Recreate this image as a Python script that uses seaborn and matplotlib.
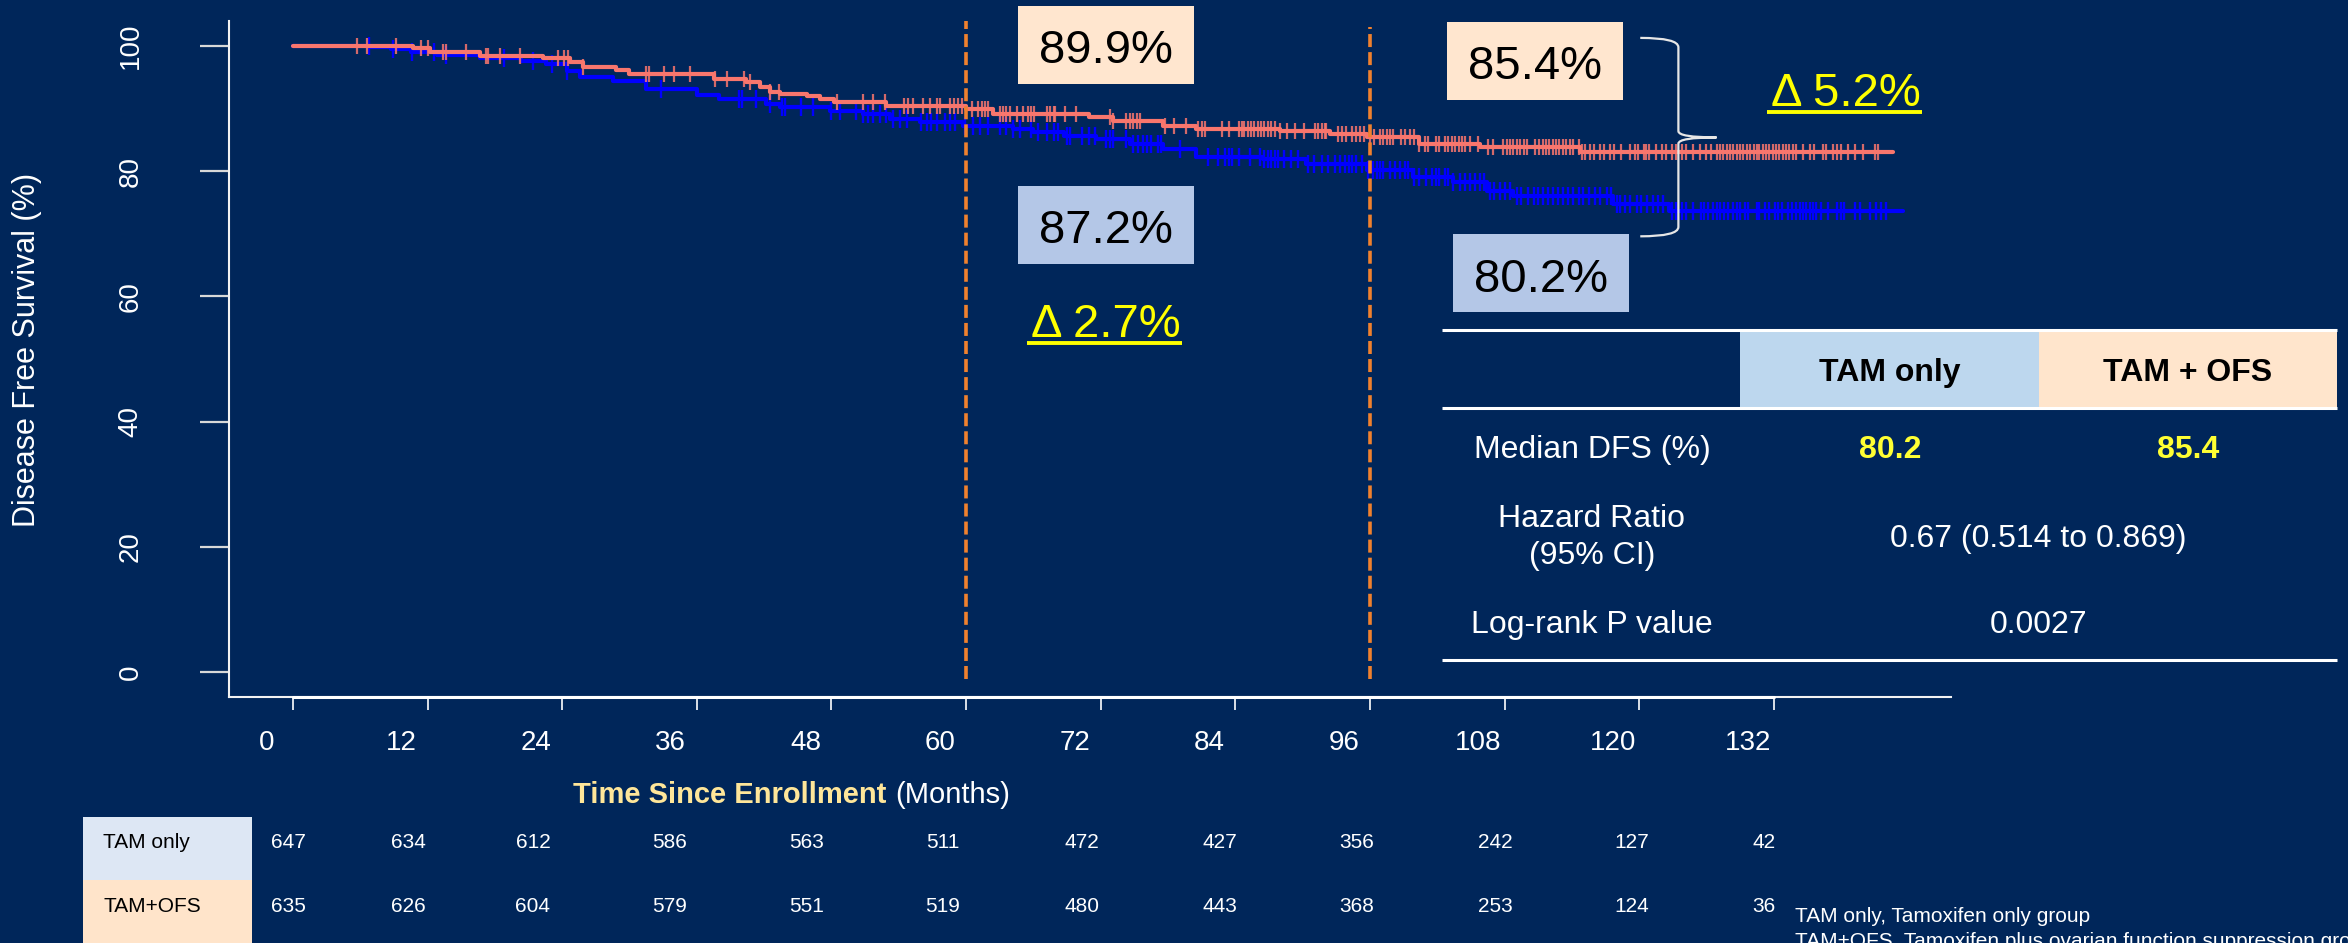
import numpy as np
import pandas as pd
import matplotlib
matplotlib.use("Agg")
import matplotlib.pyplot as plt
import matplotlib.transforms as mtransforms
import seaborn as sns
from matplotlib.patches import Rectangle, PathPatch
from matplotlib.path import Path
from matplotlib.lines import Line2D

# ---------------- data ----------------
groups = ["TAM only", "TAM + OFS"]

# Kaplan-Meier steps: month of each drop and DFS (%) after it
tam_time = [0, 7.0, 8.7, 10.5, 12.8, 16.7, 20.3, 22.6, 24.4, 25.6,
            28.5, 31.5, 36.0, 38.0, 42.2, 43.4, 47.9, 50.8, 53.2, 55.9,
            59.7, 64.2, 66.0, 68.7, 71.6, 74.6, 77.6, 80.5, 86.5, 90.3,
            95.7, 99.8, 103.4, 106.4, 108.8, 117.7, 122.7, 143.5]
tam_surv = [100, 99.8, 99.5, 99.0, 98.6, 98.1, 97.6, 97.1, 96.0, 95.0,
            94.4, 93.1, 92.2, 91.5, 90.7, 90.2, 89.6, 89.1, 88.4, 87.8,
            87.2, 86.7, 86.2, 85.7, 85.1, 84.3, 83.5, 82.3, 81.9, 81.2,
            80.2, 79.1, 78.3, 76.8, 76.0, 74.7, 73.6, 73.6]

ofs_time = [0, 10.7, 12.2, 16.7, 22.3, 24.7, 25.9, 28.8, 30.0, 37.5,
            40.4, 41.6, 42.5, 43.4, 45.8, 47.0, 48.2, 52.9, 60.0, 62.4,
            71.0, 73.1, 77.6, 80.5, 88.0, 92.4, 95.7, 100.4, 105.8, 114.7,
            142.6]
ofs_surv = [100, 99.7, 99.1, 98.4, 98.1, 97.4, 96.6, 96.2, 95.6, 94.7,
            94.2, 93.4, 92.7, 92.4, 92.0, 91.6, 91.1, 90.4, 89.9, 89.2,
            88.6, 88.0, 87.3, 86.8, 86.4, 85.9, 85.4, 84.3, 83.8, 83.0,
            83.0]

# censoring times (months)
tam_censor = [
    6.8, 8.9, 10.6, 12.6, 13.6, 18.8, 21.4, 23.1, 24.4, 32.8, 39.8, 40.0,
    41.3, 42.5, 43.6, 43.9, 45.3, 46.4, 48.0, 48.8, 50.2, 50.8, 51.3, 51.7,
    52.3, 52.9, 53.5, 54.1, 54.7, 56.0, 56.5, 56.9, 57.4, 58.1, 58.6, 59.0,
    59.9, 60.6, 61.2, 62.0, 63.0, 63.6, 64.2, 64.8, 65.8, 66.4, 67.2, 67.8,
    68.2, 69.0, 69.3, 70.3, 71.0, 71.5, 72.5, 72.8, 73.1, 74.3, 74.9, 75.3,
    75.8, 76.1, 76.5, 77.1, 77.4, 79.1, 81.6, 82.5, 83.1, 83.4, 83.7, 84.3,
    85.3, 86.2, 86.6, 86.9, 87.2, 87.5, 87.8, 88.3, 89.0, 89.6, 90.5, 91.0,
    91.7, 92.3, 92.9, 93.3, 93.8, 94.1, 94.4, 94.8, 95.3, 95.8, 96.3, 96.6,
    96.9, 97.2, 97.8, 98.2, 98.7, 99.1, 99.4, 99.9, 100.4, 101.0, 101.5,
    101.9, 102.2, 102.7, 103.0, 103.4, 104.0, 104.5, 104.9, 105.4, 105.8,
    106.2, 106.7, 107.1, 107.6, 108.0, 108.5, 109.1, 109.5, 110.1, 110.6,
    111.0, 111.4, 111.9, 112.3, 112.8, 113.2, 113.7, 114.1, 114.6, 115.0,
    115.5, 116.1, 116.5, 117.1, 117.5, 118.0, 118.3, 118.7, 119.2, 119.8,
    120.2, 120.7, 121.2, 121.7, 122.1, 122.9, 123.3, 123.8, 124.2, 124.8,
    125.5, 125.8, 126.1, 126.6, 126.9, 127.2, 127.6, 127.9, 128.4, 128.7,
    129.0, 129.4, 129.7, 130.5, 130.7, 131.2, 131.6, 132.1, 132.4, 132.7,
    133.3, 133.6, 134.0, 134.3, 134.6, 134.9, 135.2, 135.5, 135.8, 136.2,
    136.8, 137.6, 138.0, 138.3, 139.2, 139.7, 140.6, 141.1, 141.6, 142.0]

ofs_censor = [
    5.7, 6.6, 9.2, 11.4, 12.0, 13.4, 13.6, 15.4, 17.2, 17.4, 18.5, 20.2,
    23.6, 24.2, 24.5, 25.9, 31.5, 31.7, 33.1, 34.0, 35.4, 37.6, 38.7, 40.2,
    40.7, 42.5, 43.3, 48.5, 50.8, 51.7, 52.8, 54.5, 54.8, 55.3, 56.2, 56.8,
    57.4, 57.7, 58.6, 58.9, 59.3, 59.6, 60.5, 61.1, 61.4, 61.7, 62.0, 63.0,
    63.3, 63.6, 63.9, 64.5, 65.1, 65.5, 65.8, 66.1, 67.2, 67.5, 67.8, 67.9,
    68.8, 69.8, 72.8, 73.1, 74.3, 74.6, 74.9, 75.2, 75.5, 77.7, 78.5, 79.6,
    80.7, 81.0, 81.3, 82.8, 83.4, 84.3, 84.6, 84.8, 85.1, 85.4, 85.7, 86.0,
    86.3, 86.6, 86.9, 87.2, 87.5, 88.0, 88.6, 89.3, 90.1, 91.1, 91.4, 91.7,
    92.0, 92.1, 93.2, 93.5, 93.9, 94.4, 94.8, 95.1, 95.5, 96.0, 96.4, 96.9,
    97.2, 97.5, 97.8, 98.1, 98.8, 99.1, 99.6, 99.9, 100.4, 100.9, 101.2,
    101.9, 102.2, 102.7, 103.0, 103.3, 103.6, 103.9, 104.2, 104.5, 104.9,
    105.6, 106.5, 107.0, 107.9, 108.2, 108.5, 108.8, 109.1, 109.4, 109.7,
    110.0, 110.7, 111.1, 111.4, 111.7, 112.0, 112.3, 112.6, 112.9, 113.2,
    113.5, 113.8, 114.1, 114.6, 114.9, 115.2, 115.6, 116.0, 116.5, 116.9,
    117.4, 117.8, 118.4, 119.2, 119.6, 119.9, 120.4, 120.6, 120.9, 121.5,
    122.0, 122.4, 122.9, 123.3, 123.8, 124.2, 124.8, 125.4, 126.0, 126.4,
    126.9, 127.2, 127.5, 127.8, 128.1, 128.4, 128.7, 129.0, 129.3, 129.6,
    129.9, 130.2, 130.5, 130.7, 131.0, 131.3, 131.6, 131.9, 132.2, 132.5,
    132.8, 133.1, 133.4, 133.7, 134.0, 134.6, 135.2, 135.6, 136.4, 136.7,
    137.3, 137.6, 138.0, 138.6, 139.2, 140.0, 141.0, 141.3]

# landmark estimates (months, % DFS)
landmark_months = [60, 96]
tam_landmark = [87.2, 80.2]
ofs_landmark = [89.9, 85.4]

# number at risk
risk_months = list(range(0, 133, 12))
risk_names = ["TAM only", "TAM+OFS"]
tam_risk = [647, 634, 612, 586, 563, 511, 472, 427, 356, 242, 127, 42]
ofs_risk = [635, 626, 604, 579, 551, 519, 480, 443, 368, 253, 124, 36]

# summary table
hr_text = "0.67 (0.514 to 0.869)"
p_text = "0.0027"
footnotes = ["TAM only, Tamoxifen only group",
             "TAM+OFS, Tamoxifen plus ovarian function suppression group"]

# ---------------- style ----------------
BG = "#00265A"
BLUE = "#0000FF"
SALMON = "#F8766D"
PEACH = "#FFE6CF"
LIGHTBLUE = "#B4C7E7"
YELLOW = "#FFFF00"
ORANGE = "#F0812E"

sns.set_theme(style="ticks")
plt.rcParams["font.family"] = ["Liberation Sans", "DejaVu Sans"]
plt.rcParams["axes.unicode_minus"] = False

W, H = 2348, 943


def fx(x):
    return x / W


def fy(y):
    return 1 - y / H


fig = plt.figure(figsize=(W / 100, H / 100), dpi=100, facecolor=BG)
ax = fig.add_axes([fx(229), fy(697), (1951 - 229) / W, (697 - 21) / H])
ax.set_facecolor(BG)

# ---------------- survival curves ----------------
curves = pd.concat([
    pd.DataFrame({"month": tam_time, "dfs": tam_surv, "group": groups[0]}),
    pd.DataFrame({"month": ofs_time, "dfs": ofs_surv, "group": groups[1]}),
])
sns.lineplot(data=curves, x="month", y="dfs", hue="group", hue_order=groups,
             palette={groups[0]: BLUE, groups[1]: SALMON},
             drawstyle="steps-post", estimator=None, sort=False,
             lw=3, legend=False, ax=ax)
ax.lines[0].set_zorder(2)
ax.lines[1].set_zorder(3)


def step_value(times, surv, t):
    idx = np.searchsorted(np.asarray(times), np.asarray(t), side="right") - 1
    return np.asarray(surv)[idx]


ax.plot(tam_censor, step_value(tam_time, tam_surv, tam_censor),
        ls="none", marker="|", ms=12.5, mew=1.7, color=BLUE, zorder=2.5)
ax.plot(ofs_censor, step_value(ofs_time, ofs_surv, ofs_censor),
        ls="none", marker="|", ms=11.5, mew=1.6, color=SALMON, alpha=0.85,
        zorder=3.5)

# landmark lines
ax.vlines(landmark_months[0], -1.1, 104, color=ORANGE, lw=2.6,
          linestyles=(0, (3.6, 1.4)), zorder=4)
ax.vlines(landmark_months[1], -1.1, 103, color=ORANGE, lw=2.6,
          linestyles=(0, (3.6, 1.4)), zorder=4)

# brace spanning the 96-month estimates
x0, xm, xt = 120.1, 123.5, 126.9
y_top, y_tip, y_bot = 101.3, ofs_landmark[1], 69.6
verts = [(x0, y_top), (xm, y_top), (xm, y_top - 1.5),
         (xm, y_tip + 1.0),
         (xm, y_tip), (xt, y_tip),
         (xm, y_tip), (xm, y_tip - 1.0),
         (xm, y_bot + 1.5),
         (xm, y_bot), (x0, y_bot)]
codes = [Path.MOVETO, Path.CURVE3, Path.CURVE3, Path.LINETO,
         Path.CURVE3, Path.CURVE3, Path.CURVE3, Path.CURVE3,
         Path.LINETO, Path.CURVE3, Path.CURVE3]
ax.add_patch(PathPatch(Path(verts, codes), facecolor="none",
                       edgecolor="#E6E6E6", lw=1.6, zorder=4))

# axes
ax.set_xlim(-5.7, 147.8)
ax.set_ylim(-4, 104)
ax.set_xticks(risk_months)
ax.set_yticks(range(0, 101, 20))
ax.tick_params(axis="x", colors="white", length=9.5, width=1.2,
               labelsize=20, pad=14, direction="out")
ax.tick_params(axis="y", colors="#D8D8D8", length=21, width=1.6,
               labelsize=20, pad=50, labelcolor="white", direction="out")
for lab in ax.get_yticklabels():
    lab.set_rotation(90)
    lab.set_ha("center")
    lab.set_va("center")
# month labels sit slightly left of their ticks
shift = mtransforms.ScaledTranslation(-0.26, 0, fig.dpi_scale_trans)
for lab in ax.get_xticklabels():
    lab.set_transform(lab.get_transform() + shift)
for side in ["top", "right"]:
    ax.spines[side].set_visible(False)
for side in ["left", "bottom"]:
    ax.spines[side].set_color("#F2F2F2")
    ax.spines[side].set_linewidth(1.5)
ax.plot([0, 132], [-4, -4], color="white", lw=2.2, clip_on=False, zorder=5)
ax.set_xlabel("")
ax.set_ylabel("Disease Free Survival (%)", fontsize=22, color="white")
ax.yaxis.set_label_coords((27 - 229) / (1951 - 229), (697 - 350) / 676)
ax.yaxis.label.set_va("center")

# x axis title: bold part + plain part
fig.text(fx(886), fy(803), "Time Since Enrollment", fontsize=21,
         fontweight="bold", color="#FFE699", ha="right", va="baseline")
fig.text(fx(895), fy(803), "(Months)", fontsize=21, color="white",
         ha="left", va="baseline")


# ---------------- helpers for figure-level annotation ----------------
def box(x0_, y0_, x1_, y1_, color, z=1):
    fig.add_artist(Rectangle((fx(x0_), fy(y1_)), (x1_ - x0_) / W,
                             (y1_ - y0_) / H, transform=fig.transFigure,
                             facecolor=color, edgecolor="none", zorder=z))


def hline(x0_, x1_, y, lw=2.0, color="white"):
    fig.add_artist(Line2D([fx(x0_), fx(x1_)], [fy(y), fy(y)],
                          transform=fig.transFigure, color=color, lw=lw,
                          solid_capstyle="butt", zorder=2))


# landmark value boxes
box(1018, 6, 1194, 84, PEACH)
fig.text(fx(1106), fy(63), f"{ofs_landmark[0]:.1f}%", fontsize=34,
         color="black", ha="center", va="baseline")
box(1018, 186, 1194, 264, LIGHTBLUE)
fig.text(fx(1106), fy(243), f"{tam_landmark[0]:.1f}%", fontsize=34,
         color="black", ha="center", va="baseline")
box(1447, 22, 1623, 100, PEACH)
fig.text(fx(1535), fy(79), f"{ofs_landmark[1]:.1f}%", fontsize=34,
         color="black", ha="center", va="baseline")
box(1453, 234, 1629, 312, LIGHTBLUE)
fig.text(fx(1541), fy(292), f"{tam_landmark[1]:.1f}%", fontsize=34,
         color="black", ha="center", va="baseline")

# differences, underlined
delta_texts = []
for cx, base, o, t in [(1106, 337, ofs_landmark[0], tam_landmark[0]),
                       (1846, 106, ofs_landmark[1], tam_landmark[1])]:
    txt = fig.text(fx(cx), fy(base), f"\u0394 {o - t:.1f}%", fontsize=34,
                   color=YELLOW, ha="center", va="baseline")
    delta_texts.append((txt, base))

# summary table
hline(1442, 2337, 330, lw=2.2)
box(1740, 331, 2039, 407, "#BDD7EE")
box(2039, 331, 2337, 407, "#FFE5CC")
hline(1442, 2337, 408, lw=2.2)
hline(1442, 2337, 660, lw=2.2)
fig.text(fx(1890), fy(381), groups[0], fontsize=23, fontweight="bold",
         color="black", ha="center", va="baseline")
fig.text(fx(2188), fy(381), groups[1], fontsize=23, fontweight="bold",
         color="black", ha="center", va="baseline")
fig.text(fx(1592), fy(458), "Median DFS (%)", fontsize=23, color="white",
         ha="center", va="baseline")
fig.text(fx(1890), fy(458), f"{tam_landmark[1]:.1f}", fontsize=23,
         fontweight="bold", color="#FFFF33", ha="center", va="baseline")
fig.text(fx(2188), fy(458), f"{ofs_landmark[1]:.1f}", fontsize=23,
         fontweight="bold", color="#FFFF33", ha="center", va="baseline")
fig.text(fx(1592), fy(527), "Hazard Ratio", fontsize=23, color="white",
         ha="center", va="baseline")
fig.text(fx(1592), fy(564), "(95% CI)", fontsize=23, color="white",
         ha="center", va="baseline")
fig.text(fx(2038), fy(547), hr_text, fontsize=23, color="white",
         ha="center", va="baseline")
fig.text(fx(1592), fy(633), "Log-rank P value", fontsize=23, color="white",
         ha="center", va="baseline")
fig.text(fx(2039), fy(633), p_text, fontsize=23, color="white",
         ha="center", va="baseline")

# number-at-risk table
box(83, 817, 252, 880, "#DDE7F4")
box(83, 880, 252, 950, "#FFE4CA")
risk_x_px = [288, 408, 533, 670, 807, 943, 1082, 1220, 1357, 1495, 1632, 1764]
for name, counts, base in [(risk_names[0], tam_risk, 848),
                           (risk_names[1], ofs_risk, 912)]:
    fig.text(fx(103), fy(base), name, fontsize=15, color="black",
             ha="left", va="baseline")
    for xp, n in zip(risk_x_px, counts):
        fig.text(fx(xp), fy(base), str(n), fontsize=15, color="white",
                 ha="center", va="baseline")

# footnotes
fig.text(fx(1795), fy(922), footnotes[0], fontsize=15, color="white",
         ha="left", va="baseline")
fig.text(fx(1795), fy(947), footnotes[1], fontsize=15, color="white",
         ha="left", va="baseline")

# underline the difference labels
fig.canvas.draw()
renderer = fig.canvas.get_renderer()
for txt, base in delta_texts:
    bb = txt.get_window_extent(renderer=renderer)
    fig.add_artist(Line2D([(bb.x0 - 4) / W, (bb.x1 + 1) / W],
                          [fy(base + 6), fy(base + 6)],
                          transform=fig.transFigure, color=YELLOW, lw=2.8,
                          solid_capstyle="butt", zorder=3))

fig.savefig("out.png", dpi=100, facecolor=BG)
